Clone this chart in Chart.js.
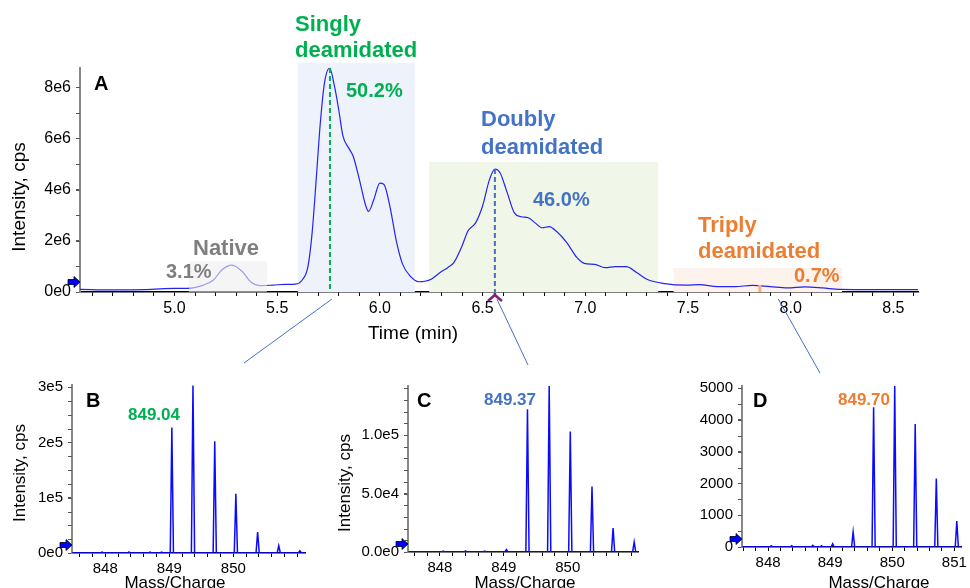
<!DOCTYPE html>
<html lang="en">
<head>
<meta charset="utf-8">
<title>Deamidation XIC and spectra</title>
<script src="https://cdn.jsdelivr.net/npm/chart.js"></script>
<style>
  html, body { margin: 0; padding: 0; background: #fff; }
  #wrap { position: relative; width: 970px; height: 588px; overflow: hidden; }
  canvas { position: absolute; }
  #chartA { left: 0; top: 0; }
  #chartB { left: 0; top: 360px; }
  #chartC { left: 320px; top: 360px; }
  #chartD { left: 650px; top: 360px; }
</style>
</head>
<body>
<div id="wrap">
  <canvas id="chartA" width="970" height="588"></canvas>
  <canvas id="chartB" width="320" height="228"></canvas>
  <canvas id="chartC" width="330" height="228"></canvas>
  <canvas id="chartD" width="320" height="228"></canvas>
</div>

<script>
// ---- Panel A: extracted ion chromatogram (time in min, intensity in cps)
const timeA = [4.54, 4.70, 4.85, 4.95, 5.00, 5.06, 5.14, 5.19, 5.23, 5.28, 5.33, 5.37, 5.42, 5.48, 5.54, 5.59,
  5.62, 5.65, 5.67, 5.69, 5.71, 5.73, 5.755, 5.78, 5.80, 5.82, 5.85, 5.87, 5.90, 5.93, 5.945, 5.97, 6.00, 6.02,
  6.05, 6.08, 6.11, 6.15, 6.19, 6.22, 6.25, 6.30, 6.33, 6.36, 6.40, 6.43, 6.466, 6.50, 6.534, 6.56, 6.585, 6.62,
  6.654, 6.688, 6.722, 6.756, 6.79, 6.824, 6.858, 6.91, 6.96, 6.995, 7.046, 7.097, 7.148, 7.20, 7.25, 7.30,
  7.387, 7.49, 7.558, 7.643, 7.73, 7.814, 7.90, 7.985, 8.07, 8.155, 8.24, 8.41, 8.62];
const intensityA = [0.10e6, 0.08e6, 0.09e6, 0.13e6, 0.14e6, 0.14e6, 0.27e6, 0.47e6, 0.86e6, 1.05e6, 0.80e6, 0.40e6,
  0.25e6, 0.27e6, 0.30e6, 0.31e6, 0.45e6, 1.0e6, 2.3e6, 4.4e6, 6.6e6, 8.15e6, 8.75e6, 8.0e6, 7.1e6, 6.1e6, 5.6e6,
  5.3e6, 4.4e6, 3.4e6, 3.15e6, 3.6e6, 4.25e6, 4.2e6, 3.3e6, 2.0e6, 1.1e6, 0.6e6, 0.4e6, 0.42e6, 0.5e6, 0.8e6,
  0.95e6, 1.15e6, 1.8e6, 2.4e6, 2.7e6, 3.36e6, 4.4e6, 4.8e6, 4.66e6, 3.88e6, 3.1e6, 2.94e6, 2.9e6, 2.7e6, 2.51e6,
  2.55e6, 2.38e6, 1.93e6, 1.34e6, 1.12e6, 1.08e6, 0.95e6, 0.99e6, 0.99e6, 0.76e6, 0.5e6, 0.33e6, 0.27e6, 0.29e6,
  0.21e6, 0.21e6, 0.26e6, 0.21e6, 0.16e6, 0.2e6, 0.16e6, 0.1e6, 0.09e6, 0.09e6];

// Integration windows for each deamidation state
const stateNames = ['Native', 'Singly\ndeamidated', 'Doubly\ndeamidated', 'Triply\ndeamidated'];
const stateStart = [5.07, 5.60, 6.24, 7.43];
const stateEnd = [5.45, 6.17, 7.355, 8.25];
const statePercent = ['3.1%', '50.2%', '46.0%', '0.7%'];
const apexTimes = [5.757, 6.56];        // dashed apex markers (singly, doubly)
const apexIntensity = [8.75e6, 4.8e6];
const triplyMarkTime = 7.85;

// ---- Panels B, C, D: mass spectra (m/z, intensity in cps)
const mzB = [847.95, 848.37, 848.70, 848.88, 849.04, 849.37, 849.71, 850.04, 850.38, 850.71, 851.04];
const intB = [1500, 2000, 1500, 1500, 227000, 303000, 202000, 107000, 38000, 13000, 4000];
const mzC = [848.05, 848.40, 848.70, 849.04, 849.37, 849.71, 850.04, 850.38, 850.71, 851.04];
const intC = [800, 1000, 800, 2000, 122000, 142000, 103000, 56000, 20500, 8500];
const mzD = [848.05, 848.38, 848.72, 848.86, 849.04, 849.37, 849.70, 850.04, 850.37, 850.71, 851.04];
const intD = [40, 40, 50, 40, 100, 470, 4400, 5070, 3870, 2160, 820];
const labelB = '849.04', labelC = '849.37', labelD = '849.70';

// ---- Colours
const GREEN = '#00b050', BLUE = '#4472c4', ORANGE = '#ed7d31', GREY = '#7f7f7f';
const stateFill = ['rgba(238,238,238,0.6)', '#eef2fa', '#f0f7e8', '#fdf2ec'];
const stateBoxTop = [1.2e6, 8.95e6, 5.08e6, 0.94e6];

Chart.defaults.font.family = '"Liberation Sans", Arial, sans-serif';
Chart.defaults.color = '#000';

const isStep = (v, s) => Math.abs(v / s - Math.round(v / s)) < 1e-6;
const expo = (v, d) => v.toExponential(d).replace('+', '');

// Tick values at whole multiples of step inside [min, max]
function tickList(min, max, step) {
  const out = [];
  for (let i = Math.ceil(min / step - 1e-9); i * step <= max + 1e-9; i++) out.push(+(i * step).toFixed(6));
  return out;
}

function text(ctx, str, x, y, size, color, align = 'left', weight = 'bold') {
  ctx.save();
  ctx.font = `${weight} ${size}px "Liberation Sans", Arial, sans-serif`;
  ctx.fillStyle = color;
  ctx.textAlign = align;
  ctx.textBaseline = 'alphabetic';
  ctx.fillText(str, x, y);
  ctx.restore();
}

function yTitle(ctx, str, x, y, size) {
  ctx.save();
  ctx.translate(x, y);
  ctx.rotate(-Math.PI / 2);
  ctx.font = `${size}px "Liberation Sans", Arial, sans-serif`;
  ctx.fillStyle = '#000';
  ctx.textAlign = 'center';
  ctx.textBaseline = 'middle';
  ctx.fillText(str, 0, 0);
  ctx.restore();
}

// Small blue arrow sitting on the y axis near the baseline
function baseArrow(ctx, xAxisLeft, yPix) {
  const x0 = xAxisLeft - 12;
  ctx.save();
  ctx.beginPath();
  ctx.moveTo(x0, yPix - 2.5);
  ctx.lineTo(x0 + 6, yPix - 2.5);
  ctx.lineTo(x0 + 6, yPix - 5.5);
  ctx.lineTo(x0 + 12, yPix);
  ctx.lineTo(x0 + 6, yPix + 5.5);
  ctx.lineTo(x0 + 6, yPix + 2.5);
  ctx.lineTo(x0, yPix + 2.5);
  ctx.closePath();
  ctx.fillStyle = '#0000ff';
  ctx.fill();
  ctx.strokeStyle = '#000';
  ctx.lineWidth = 0.8;
  ctx.stroke();
  ctx.restore();
}

// Minor tick marks on the y axis, between the labelled ones
const minorTicks = {
  id: 'minorTicks',
  afterDraw(chart, args, opts) {
    const { ctx, scales: { y } } = chart;
    ctx.save();
    ctx.strokeStyle = '#555';
    ctx.lineWidth = 1;
    for (let i = 1; i * opts.step < y.max; i++) {
      const p = Math.round(y.getPixelForValue(i * opts.step)) + 0.5;
      ctx.beginPath();
      ctx.moveTo(y.right - 4, p);
      ctx.lineTo(y.right, p);
      ctx.stroke();
    }
    ctx.restore();
  }
};

function xAxis(min, max, step, label, size, height) {
  return {
    type: 'linear', min, max,
    grid: { drawOnChartArea: false, tickLength: 4, color: '#000' },
    border: { color: '#000', width: 1.5 },
    ticks: { autoSkip: false, maxRotation: 0, padding: 3, font: { size }, callback: label },
    afterBuildTicks: s => { s.ticks = tickList(min, max, step).map(value => ({ value })); },
    afterFit: s => { s.height = height; }
  };
}

function yAxis(min, max, step, label, size, width) {
  return {
    type: 'linear', min, max,
    grid: { drawOnChartArea: false, tickLength: 4, color: '#555' },
    border: { color: '#888', width: 2 },
    ticks: { autoSkip: false, padding: 5, font: { size }, callback: label },
    afterBuildTicks: s => { s.ticks = tickList(min, max, step).map(value => ({ value })); },
    afterFit: s => { s.width = width; }
  };
}

// Turn a centroid list into a thin stick profile
function stickProfile(mz, inten, xmin, xmax) {
  const pts = [{ x: xmin, y: 0 }];
  mz.forEach((m, i) => {
    pts.push({ x: m - 0.025, y: 0 }, { x: m, y: inten[i] }, { x: m + 0.025, y: 0 });
  });
  pts.push({ x: xmax, y: 0 });
  return pts;
}

// ---- Panel A decorations
const decorA = {
  id: 'decorA',
  beforeDatasetsDraw(chart) {
    const { ctx, scales: { x, y } } = chart;
    const y0 = y.getPixelForValue(0);
    ctx.save();
    for (let i = 1; i < 4; i++) {
      const xs = x.getPixelForValue(stateStart[i]), xe = x.getPixelForValue(stateEnd[i]);
      const yt = y.getPixelForValue(stateBoxTop[i]);
      ctx.fillStyle = stateFill[i];
      ctx.fillRect(xs, yt, xe - xs, y0 - yt);
    }
    ctx.restore();
  },
  afterDatasetsDraw(chart) {
    const { ctx, scales: { x, y } } = chart;
    const y0 = y.getPixelForValue(0);
    ctx.save();
    // native window is laid over the trace
    const xs = x.getPixelForValue(stateStart[0]), xe = x.getPixelForValue(stateEnd[0]);
    const yt = y.getPixelForValue(stateBoxTop[0]);
    ctx.fillStyle = stateFill[0];
    ctx.fillRect(xs, yt, xe - xs, y0 - yt);
    // dashed apex lines
    ctx.lineWidth = 2;
    ctx.setLineDash([5, 3]);
    apexTimes.forEach((t, i) => {
      const px = x.getPixelForValue(t);
      ctx.strokeStyle = i === 0 ? GREEN : BLUE;
      ctx.beginPath();
      ctx.moveTo(px, y.getPixelForValue(apexIntensity[i]));
      ctx.lineTo(px, y0);
      ctx.stroke();
    });
    ctx.setLineDash([]);
    // triply marker
    const tx = x.getPixelForValue(triplyMarkTime);
    ctx.fillStyle = '#f4b183';
    ctx.fillRect(tx - 1.5, y0 - 7, 3, 7);
    ctx.restore();
  },
  afterDraw(chart) {
    const { ctx, scales: { x, y } } = chart;
    const y0 = y.getPixelForValue(0);
    // state names and percentages
    text(ctx, stateNames[0], 193, 255, 22, GREY);
    text(ctx, statePercent[0], 166, 278, 20, GREY);
    const s1 = stateNames[1].split('\n');
    text(ctx, s1[0], 295, 31, 22, GREEN);
    text(ctx, s1[1], 295, 57, 22, GREEN);
    text(ctx, statePercent[1], 346, 97, 20, GREEN);
    const s2 = stateNames[2].split('\n');
    text(ctx, s2[0], 481, 126, 22, BLUE);
    text(ctx, s2[1], 481, 154, 22, BLUE);
    text(ctx, statePercent[2], 533, 206, 20, BLUE);
    const s3 = stateNames[3].split('\n');
    text(ctx, s3[0], 698, 232, 22, ORANGE);
    text(ctx, s3[1], 698, 258, 22, ORANGE);
    text(ctx, statePercent[3], 794, 282, 20, ORANGE);
    text(ctx, 'A', 94, 90, 20, '#000');

    // axis titles
    yTitle(ctx, 'Intensity, cps', 20, 197, 19);
    text(ctx, 'Time (min)', 413, 339, 19, '#000', 'center', 'normal');

    baseArrow(ctx, x.left, y0 - 10);

    // purple marker under the doubly apex
    const px = x.getPixelForValue(apexTimes[1]);
    ctx.save();
    ctx.strokeStyle = '#7f1f80';
    ctx.lineWidth = 2.5;
    ctx.beginPath();
    ctx.moveTo(px - 7, y0 + 9);
    ctx.lineTo(px, y0 + 3);
    ctx.lineTo(px + 7, y0 + 9);
    ctx.moveTo(px, y0 + 1);
    ctx.lineTo(px, y0 + 4);
    ctx.stroke();

    // lines pointing down to the spectra
    ctx.strokeStyle = BLUE;
    ctx.lineWidth = 1;
    const links = [[apexTimes[0], 244, 363], [apexTimes[1], 528, 365], [triplyMarkTime + 0.08, 820, 373]];
    links.forEach(([t, ex, ey]) => {
      ctx.beginPath();
      ctx.moveTo(x.getPixelForValue(t) + 2, y0 + 7);
      ctx.lineTo(ex, ey);
      ctx.stroke();
    });
    ctx.restore();
  }
};

const baseOptions = {
  responsive: false, animation: false, events: [],
  elements: { point: { radius: 0 } }
};

new Chart(document.getElementById('chartA'), {
  type: 'scatter',
  data: {
    datasets: [{
      data: timeA.map((t, i) => ({ x: t, y: intensityA[i] })),
      showLine: true, borderColor: '#2424f0', borderWidth: 1.2,
      cubicInterpolationMode: 'monotone'
    }]
  },
  options: {
    ...baseOptions,
    plugins: { legend: { display: false }, tooltip: { enabled: false }, minorTicks: { step: 1e6 } },
    layout: { padding: { left: 0, top: 68, right: 52, bottom: 236 } },
    scales: {
      x: xAxis(4.54, 8.62, 0.1, v => isStep(v, 0.5) ? v.toFixed(1) : '', 16, 60),
      y: yAxis(0, 8.75e6, 2e6, v => v === 0 ? '0e0' : expo(v, 0), 16, 80)
    }
  },
  plugins: [decorA, minorTicks]
});

// ---- Spectrum panels
function spectrum(id, mz, inten, cfg) {
  const decor = {
    id: 'decor' + cfg.letter,
    afterDraw(chart) {
      const { ctx, scales: { x, y } } = chart;
      text(ctx, cfg.letter, cfg.letterPos[0], cfg.letterPos[1], 20, '#000');
      text(ctx, cfg.label, cfg.labelPos[0], cfg.labelPos[1], 17, cfg.labelColor);
      if (cfg.yTitle) yTitle(ctx, 'Intensity, cps', cfg.yTitle[0], cfg.yTitle[1], 17);
      text(ctx, 'Mass/Charge', cfg.xTitleX, 228, 17, '#000', 'center', 'normal');
      baseArrow(ctx, x.left, y.getPixelForValue(0) - 8);
    }
  };
  const xLabel = v => {
    const r = Math.round(v);
    return isStep(v, 1) && r <= cfg.lastLabel ? String(r) : '';
  };
  new Chart(document.getElementById(id), {
    type: 'scatter',
    data: {
      datasets: [{
        data: stickProfile(mz, inten, cfg.xmin, cfg.xmax),
        showLine: true, borderColor: '#0a0aff', borderWidth: 1.5
      }]
    },
    options: {
      ...baseOptions,
      plugins: { legend: { display: false }, tooltip: { enabled: false }, minorTicks: { step: cfg.minor } },
      layout: { padding: { left: 0, top: cfg.top, right: cfg.right, bottom: 0 } },
      scales: {
        x: xAxis(cfg.xmin, cfg.xmax, 0.2, xLabel, 15, cfg.xh),
        y: yAxis(0, cfg.ymax, cfg.ystep, cfg.yfmt, 15, cfg.yw)
      }
    },
    plugins: [decor, minorTicks]
  });
}

spectrum('chartB', mzB, intB, {
  letter: 'B', letterPos: [86, 47], label: labelB, labelPos: [128, 60], labelColor: GREEN,
  yTitle: [20, 113], xTitleX: 175,
  xmin: 847.48, xmax: 851.12, lastLabel: 850, ymax: 3.04e5, ystep: 1e5, minor: 2.5e4,
  yfmt: v => v === 0 ? '0e0' : expo(v, 0),
  top: 25, right: 15, xh: 35, yw: 72
});

spectrum('chartC', mzC, intC, {
  letter: 'C', letterPos: [97, 47], label: labelC, labelPos: [164, 45], labelColor: BLUE,
  yTitle: [25, 123], xTitleX: 205,
  xmin: 847.5, xmax: 851.1, lastLabel: 850, ymax: 1.42e5, ystep: 5e4, minor: 1e4,
  yfmt: v => expo(v, 1),
  top: 26, right: 12, xh: 36, yw: 88
});

spectrum('chartD', mzD, intD, {
  letter: 'D', letterPos: [103, 47], label: labelD, labelPos: [188, 45], labelColor: ORANGE,
  yTitle: null, xTitleX: 229,
  xmin: 847.58, xmax: 851.12, lastLabel: 851, ymax: 5070, ystep: 1000, minor: 500,
  yfmt: v => String(v),
  top: 26, right: 5, xh: 41, yw: 92
});
</script>
</body>
</html>
